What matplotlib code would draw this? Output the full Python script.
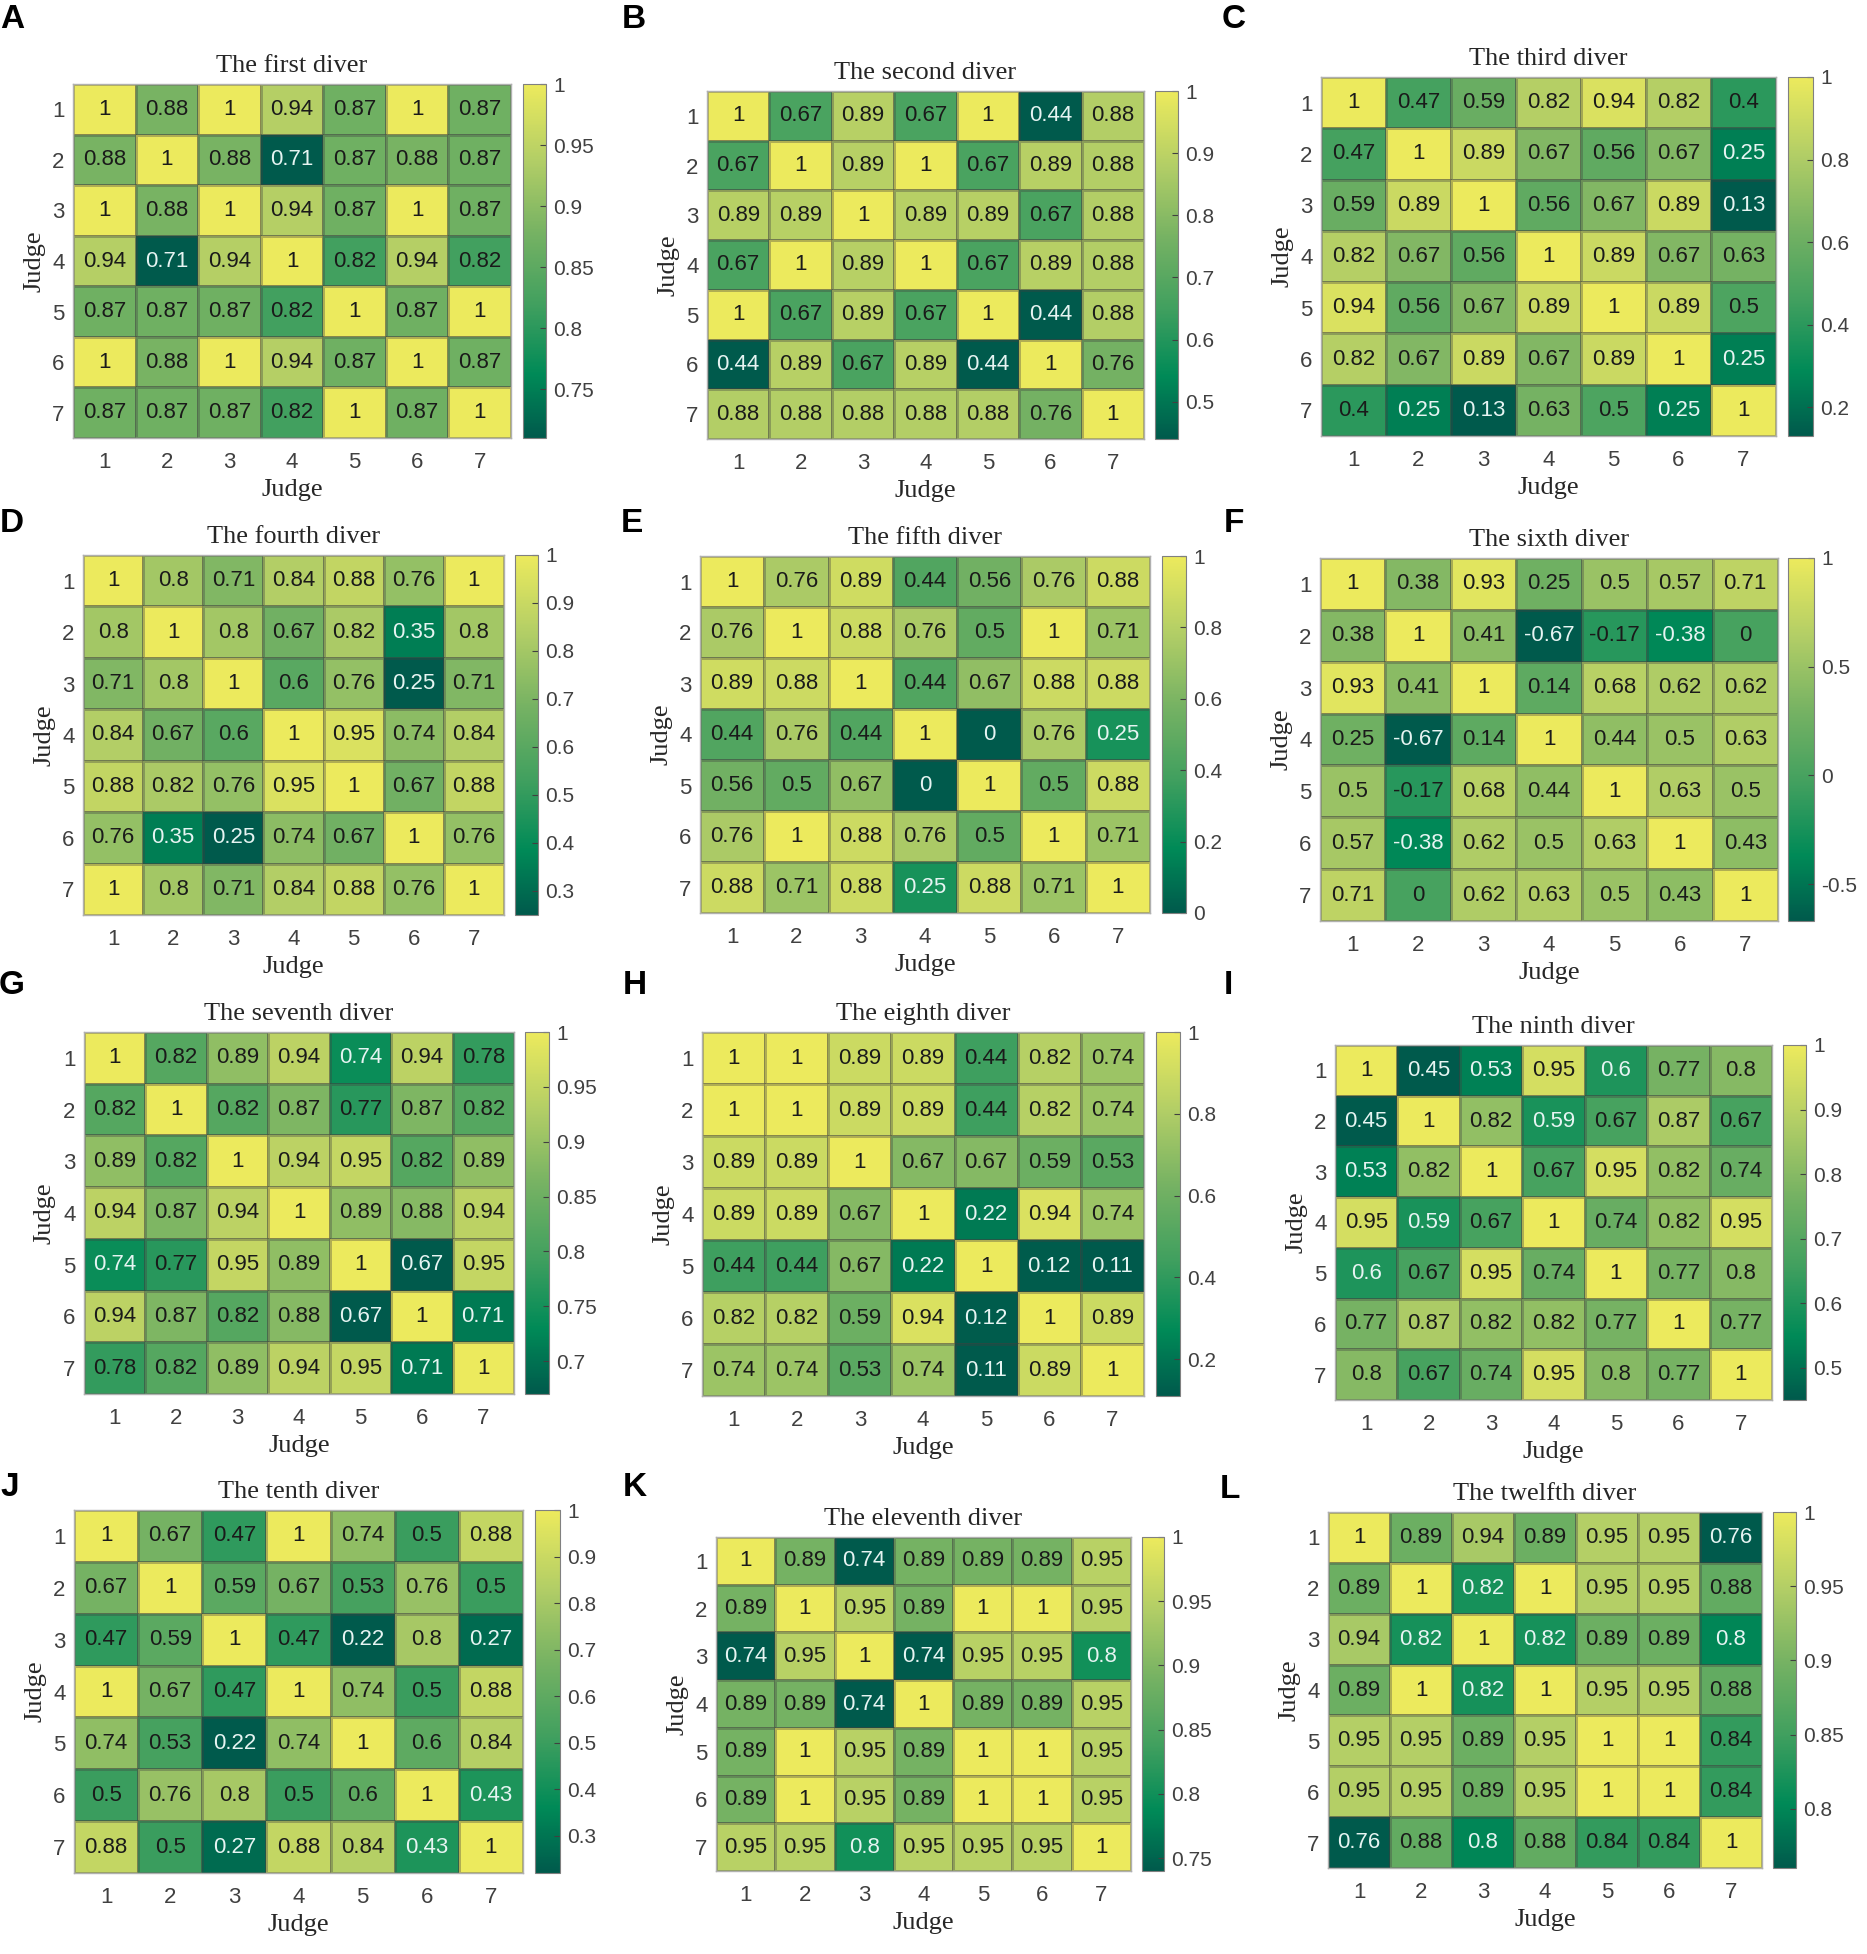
import numpy as np
import matplotlib.pyplot as plt
from matplotlib.colors import LinearSegmentedColormap
from matplotlib.ticker import FormatStrFormatter

# ---- data -------------------------------------------------------------
judges = [1, 2, 3, 4, 5, 6, 7]
letters = ["A", "B", "C", "D", "E", "F", "G", "H", "I", "J", "K", "L"]
titles = ["The first diver", "The second diver", "The third diver",
          "The fourth diver", "The fifth diver", "The sixth diver",
          "The seventh diver", "The eighth diver", "The ninth diver",
          "The tenth diver", "The eleventh diver", "The twelfth diver"]

diver1 = [[1, 0.88, 1, 0.94, 0.87, 1, 0.87],
          [0.88, 1, 0.88, 0.71, 0.87, 0.88, 0.87],
          [1, 0.88, 1, 0.94, 0.87, 1, 0.87],
          [0.94, 0.71, 0.94, 1, 0.82, 0.94, 0.82],
          [0.87, 0.87, 0.87, 0.82, 1, 0.87, 1],
          [1, 0.88, 1, 0.94, 0.87, 1, 0.87],
          [0.87, 0.87, 0.87, 0.82, 1, 0.87, 1]]
diver2 = [[1, 0.67, 0.89, 0.67, 1, 0.44, 0.88],
          [0.67, 1, 0.89, 1, 0.67, 0.89, 0.88],
          [0.89, 0.89, 1, 0.89, 0.89, 0.67, 0.88],
          [0.67, 1, 0.89, 1, 0.67, 0.89, 0.88],
          [1, 0.67, 0.89, 0.67, 1, 0.44, 0.88],
          [0.44, 0.89, 0.67, 0.89, 0.44, 1, 0.76],
          [0.88, 0.88, 0.88, 0.88, 0.88, 0.76, 1]]
diver3 = [[1, 0.47, 0.59, 0.82, 0.94, 0.82, 0.4],
          [0.47, 1, 0.89, 0.67, 0.56, 0.67, 0.25],
          [0.59, 0.89, 1, 0.56, 0.67, 0.89, 0.13],
          [0.82, 0.67, 0.56, 1, 0.89, 0.67, 0.63],
          [0.94, 0.56, 0.67, 0.89, 1, 0.89, 0.5],
          [0.82, 0.67, 0.89, 0.67, 0.89, 1, 0.25],
          [0.4, 0.25, 0.13, 0.63, 0.5, 0.25, 1]]
diver4 = [[1, 0.8, 0.71, 0.84, 0.88, 0.76, 1],
          [0.8, 1, 0.8, 0.67, 0.82, 0.35, 0.8],
          [0.71, 0.8, 1, 0.6, 0.76, 0.25, 0.71],
          [0.84, 0.67, 0.6, 1, 0.95, 0.74, 0.84],
          [0.88, 0.82, 0.76, 0.95, 1, 0.67, 0.88],
          [0.76, 0.35, 0.25, 0.74, 0.67, 1, 0.76],
          [1, 0.8, 0.71, 0.84, 0.88, 0.76, 1]]
diver5 = [[1, 0.76, 0.89, 0.44, 0.56, 0.76, 0.88],
          [0.76, 1, 0.88, 0.76, 0.5, 1, 0.71],
          [0.89, 0.88, 1, 0.44, 0.67, 0.88, 0.88],
          [0.44, 0.76, 0.44, 1, 0, 0.76, 0.25],
          [0.56, 0.5, 0.67, 0, 1, 0.5, 0.88],
          [0.76, 1, 0.88, 0.76, 0.5, 1, 0.71],
          [0.88, 0.71, 0.88, 0.25, 0.88, 0.71, 1]]
diver6 = [[1, 0.38, 0.93, 0.25, 0.5, 0.57, 0.71],
          [0.38, 1, 0.41, -0.67, -0.17, -0.38, 0],
          [0.93, 0.41, 1, 0.14, 0.68, 0.62, 0.62],
          [0.25, -0.67, 0.14, 1, 0.44, 0.5, 0.63],
          [0.5, -0.17, 0.68, 0.44, 1, 0.63, 0.5],
          [0.57, -0.38, 0.62, 0.5, 0.63, 1, 0.43],
          [0.71, 0, 0.62, 0.63, 0.5, 0.43, 1]]
diver7 = [[1, 0.82, 0.89, 0.94, 0.74, 0.94, 0.78],
          [0.82, 1, 0.82, 0.87, 0.77, 0.87, 0.82],
          [0.89, 0.82, 1, 0.94, 0.95, 0.82, 0.89],
          [0.94, 0.87, 0.94, 1, 0.89, 0.88, 0.94],
          [0.74, 0.77, 0.95, 0.89, 1, 0.67, 0.95],
          [0.94, 0.87, 0.82, 0.88, 0.67, 1, 0.71],
          [0.78, 0.82, 0.89, 0.94, 0.95, 0.71, 1]]
diver8 = [[1, 1, 0.89, 0.89, 0.44, 0.82, 0.74],
          [1, 1, 0.89, 0.89, 0.44, 0.82, 0.74],
          [0.89, 0.89, 1, 0.67, 0.67, 0.59, 0.53],
          [0.89, 0.89, 0.67, 1, 0.22, 0.94, 0.74],
          [0.44, 0.44, 0.67, 0.22, 1, 0.12, 0.11],
          [0.82, 0.82, 0.59, 0.94, 0.12, 1, 0.89],
          [0.74, 0.74, 0.53, 0.74, 0.11, 0.89, 1]]
diver9 = [[1, 0.45, 0.53, 0.95, 0.6, 0.77, 0.8],
          [0.45, 1, 0.82, 0.59, 0.67, 0.87, 0.67],
          [0.53, 0.82, 1, 0.67, 0.95, 0.82, 0.74],
          [0.95, 0.59, 0.67, 1, 0.74, 0.82, 0.95],
          [0.6, 0.67, 0.95, 0.74, 1, 0.77, 0.8],
          [0.77, 0.87, 0.82, 0.82, 0.77, 1, 0.77],
          [0.8, 0.67, 0.74, 0.95, 0.8, 0.77, 1]]
diver10 = [[1, 0.67, 0.47, 1, 0.74, 0.5, 0.88],
           [0.67, 1, 0.59, 0.67, 0.53, 0.76, 0.5],
           [0.47, 0.59, 1, 0.47, 0.22, 0.8, 0.27],
           [1, 0.67, 0.47, 1, 0.74, 0.5, 0.88],
           [0.74, 0.53, 0.22, 0.74, 1, 0.6, 0.84],
           [0.5, 0.76, 0.8, 0.5, 0.6, 1, 0.43],
           [0.88, 0.5, 0.27, 0.88, 0.84, 0.43, 1]]
diver11 = [[1, 0.89, 0.74, 0.89, 0.89, 0.89, 0.95],
           [0.89, 1, 0.95, 0.89, 1, 1, 0.95],
           [0.74, 0.95, 1, 0.74, 0.95, 0.95, 0.8],
           [0.89, 0.89, 0.74, 1, 0.89, 0.89, 0.95],
           [0.89, 1, 0.95, 0.89, 1, 1, 0.95],
           [0.89, 1, 0.95, 0.89, 1, 1, 0.95],
           [0.95, 0.95, 0.8, 0.95, 0.95, 0.95, 1]]
diver12 = [[1, 0.89, 0.94, 0.89, 0.95, 0.95, 0.76],
           [0.89, 1, 0.82, 1, 0.95, 0.95, 0.88],
           [0.94, 0.82, 1, 0.82, 0.89, 0.89, 0.8],
           [0.89, 1, 0.82, 1, 0.95, 0.95, 0.88],
           [0.95, 0.95, 0.89, 0.95, 1, 1, 0.84],
           [0.95, 0.95, 0.89, 0.95, 1, 1, 0.84],
           [0.76, 0.88, 0.8, 0.88, 0.84, 0.84, 1]]
divers = [diver1, diver2, diver3, diver4, diver5, diver6,
          diver7, diver8, diver9, diver10, diver11, diver12]

cbar_ticks = [[0.75, 0.8, 0.85, 0.9, 0.95, 1],
              [0.5, 0.6, 0.7, 0.8, 0.9, 1],
              [0.2, 0.4, 0.6, 0.8, 1],
              [0.3, 0.4, 0.5, 0.6, 0.7, 0.8, 0.9, 1],
              [0, 0.2, 0.4, 0.6, 0.8, 1],
              [-0.5, 0, 0.5, 1],
              [0.7, 0.75, 0.8, 0.85, 0.9, 0.95, 1],
              [0.2, 0.4, 0.6, 0.8, 1],
              [0.5, 0.6, 0.7, 0.8, 0.9, 1],
              [0.3, 0.4, 0.5, 0.6, 0.7, 0.8, 0.9, 1],
              [0.75, 0.8, 0.85, 0.9, 0.95, 1],
              [0.8, 0.85, 0.9, 0.95, 1]]

# ---- layout (pixels in a 1867 x 1954 canvas) ----------------------------
W, H = 1867, 1954
heat_box = [(73, 84, 511, 438), (707, 91, 1144, 439), (1321, 77, 1776, 436),
            (83, 555, 504, 915), (700, 556, 1150, 913), (1320, 558, 1778, 921),
            (84, 1032, 514, 1394), (702, 1032, 1144, 1396), (1335, 1045, 1772, 1400),
            (74, 1510, 523, 1873), (716, 1537, 1131, 1871), (1328, 1512, 1762, 1868)]
cbar_x = [(523, 546), (1155, 1178), (1788, 1813),
          (515, 538), (1162, 1186), (1788, 1814),
          (525, 549), (1156, 1180), (1783, 1806),
          (535, 560), (1142, 1164), (1773, 1796)]
letter_xy = [(12, 19), (634, 19), (1234, 19),
             (12, 523), (632, 523), (1234, 523),
             (12, 985), (635, 985), (1228, 985),
             (10, 1488), (635, 1488), (1230, 1490)]

cmap = LinearSegmentedColormap.from_list(
    "greenyellow",
    [(0.0, "#005a4c"), (0.18, "#008a57"), (0.38, "#42a05f"),
     (0.58, "#76b263"), (0.78, "#b1cd66"), (1.0, "#ecea5d")])

serif = "Liberation Serif"
sans = "Liberation Sans"
plt.rcParams["font.family"] = sans

fig = plt.figure(figsize=(W / 100, H / 100), dpi=100)


def px_rect(l, t, r, b):
    return [l / W, 1 - b / H, (r - l) / W, (b - t) / H]


for i, data in enumerate(divers):
    m = np.array(data, dtype=float)
    vmin, vmax = m.min(), m.max()
    l, t, r, b = heat_box[i]
    wpx, hpx = r - l, b - t

    ax = fig.add_axes(px_rect(l, t, r, b))
    edges = np.arange(len(judges) + 1) + 0.5
    mesh = ax.pcolormesh(edges, edges, m, cmap=cmap, vmin=vmin, vmax=vmax,
                         edgecolors=(0.25, 0.25, 0.25, 0.35), linewidth=0.8)
    ax.set_xlim(0.5, 7.5)
    ax.set_ylim(7.5, 0.5)
    ax.set_xticks(judges)
    ax.set_yticks(judges)
    ax.set_xticklabels([str(j) for j in judges])
    ax.set_yticklabels([str(j) for j in judges])
    ax.tick_params(axis="x", length=0, pad=10, labelsize=16, labelcolor="#404040")
    ax.tick_params(axis="y", length=0, pad=6, labelsize=16, labelcolor="#404040")
    for sp in ax.spines.values():
        sp.set_color("#b0b0b0")
        sp.set_linewidth(1.0)

    # cell values
    for ri in range(m.shape[0]):
        for ci in range(m.shape[1]):
            v = m[ri, ci]
            frac = (v - vmin) / (vmax - vmin)
            col = "#e6f4f2" if frac < 0.28 else "#1a1a1a"
            ax.text(judges[ci], judges[ri], "%g" % v, ha="center", va="center",
                    fontsize=16, color=col)

    # title and axis labels
    ax.text(0.5, 1 + 18 / hpx, titles[i], transform=ax.transAxes,
            ha="center", va="center", fontsize=19, family=serif, color="#262626")
    ax.text(0.5, -52 / hpx, "Judge", transform=ax.transAxes,
            ha="center", va="center", fontsize=19, family=serif, color="#262626")
    ax.text(-39 / wpx, 0.5, "Judge", transform=ax.transAxes, rotation=90,
            ha="center", va="center", fontsize=19, family=serif, color="#262626")

    # colorbar
    cl, cr = cbar_x[i]
    cax = fig.add_axes(px_rect(cl, t, cr, b))
    cb = fig.colorbar(mesh, cax=cax, ticks=cbar_ticks[i])
    cb.ax.yaxis.set_major_formatter(FormatStrFormatter("%g"))
    cb.ax.tick_params(direction="in", length=4, width=0.8, color="#404040",
                      labelsize=15, labelcolor="#404040", pad=5)
    cb.outline.set_edgecolor("#808080")
    cb.outline.set_linewidth(0.8)

    # panel letter
    lx, ly = letter_xy[i]
    fig.text(lx / W, 1 - ly / H, letters[i], ha="center", va="center",
             fontsize=24, fontweight="bold", family=sans, color="black")

fig.savefig("out.png", dpi=100)
